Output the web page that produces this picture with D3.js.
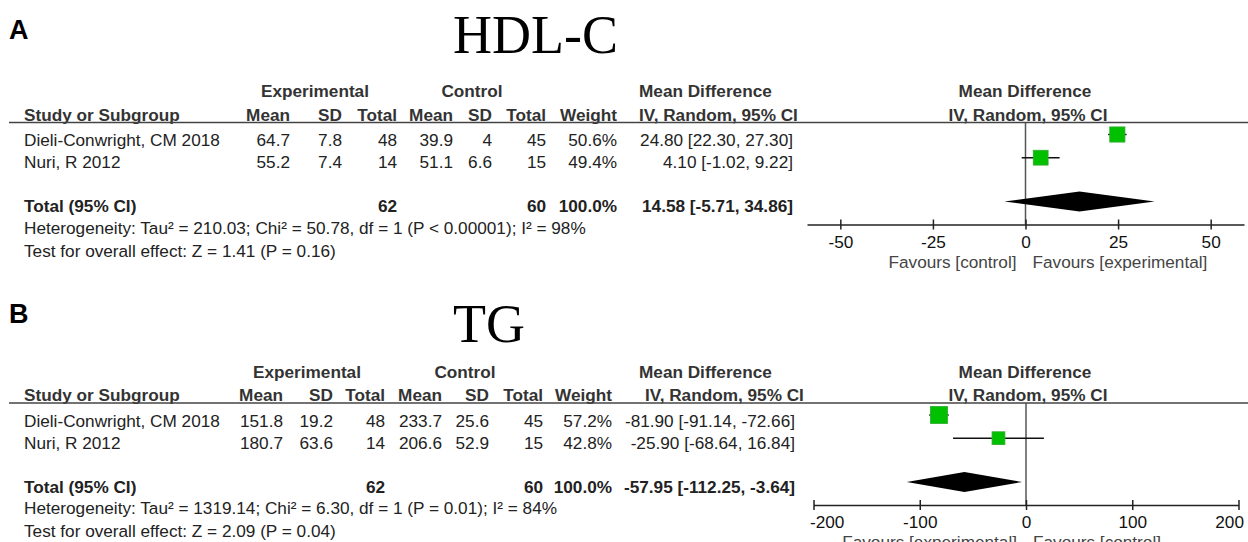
<!DOCTYPE html>
<html lang="en">
<head>
<meta charset="utf-8">
<title>Forest plots HDL-C / TG</title>
<script src="https://d3js.org/d3.v7.min.js"></script>
<style>
  body { margin: 0; background: #fff; }
  svg text { font-family: "Liberation Sans", Arial, sans-serif; }
</style>
</head>
<body>
<div id="chart"></div>
<script>
var studies = ["Dieli-Conwright, CM 2018", "Nuri, R 2012"];

// panel A: HDL-C
var hdlExpMean = [64.7, 55.2], hdlExpSD = [7.8, 7.4], hdlExpN = [48, 14];
var hdlCtlMean = [39.9, 51.1], hdlCtlSD = [4, 6.6], hdlCtlN = [45, 15];
var hdlWeight = [50.6, 49.4];
var hdlMD = [24.80, 4.10], hdlLo = [22.30, -1.02], hdlHi = [27.30, 9.22];
var hdlTotal = [14.58, -5.71, 34.86];
var hdlTicks = [-50, -25, 0, 25, 50];
var hdlFavours = ["Favours [control]", "Favours [experimental]"];
var hdlNotes = ["Heterogeneity: Tau\u00b2 = 210.03; Chi\u00b2 = 50.78, df = 1 (P < 0.00001); I\u00b2 = 98%",
                "Test for overall effect: Z = 1.41 (P = 0.16)"];

// panel B: TG
var tgExpMean = [151.8, 180.7], tgExpSD = [19.2, 63.6], tgExpN = [48, 14];
var tgCtlMean = [233.7, 206.6], tgCtlSD = [25.6, 52.9], tgCtlN = [45, 15];
var tgWeight = [57.2, 42.8];
var tgMD = [-81.90, -25.90], tgLo = [-91.14, -68.64], tgHi = [-72.66, 16.84];
var tgTotal = [-57.95, -112.25, -3.64];
var tgTicks = [-200, -100, 0, 100, 200];
var tgFavours = ["Favours [experimental]", "Favours [control]"];
var tgNotes = ["Heterogeneity: Tau\u00b2 = 1319.14; Chi\u00b2 = 6.30, df = 1 (P = 0.01); I\u00b2 = 84%",
               "Test for overall effect: Z = 2.09 (P = 0.04)"];

var W = 1248, H = 542, FS = 17.2;

var svg = d3.select("#chart").append("svg")
    .attr("width", W).attr("height", H);

function txt(g, x, y, s, opt) {
    opt = opt || {};
    return g.append("text")
        .attr("x", x).attr("y", y)
        .attr("text-anchor", opt.anchor || "start")
        .style("font-size", (opt.size || FS) + "px")
        .style("font-weight", opt.bold ? "bold" : "normal")
        .style("fill", opt.fill || "#222")
        .text(s);
}

function f2(v) { return v.toFixed(2); }

function drawPanel(p) {
    var g = svg.append("g");
    var r = p.rule;
    var c = p.cols;

    txt(g, 9, p.letterY, p.letter, {bold: true, size: 27, fill: "#000"});
    g.append("text").attr("x", 453).attr("y", p.titleY)
        .style("font-family", "'Liberation Serif', 'Times New Roman', serif")
        .style("font-size", "54px").style("fill", "#000")
        .text(p.title);

    // group headers
    txt(g, p.expC, r - 25.5, "Experimental", {anchor: "middle", bold: true, fill: "#333"});
    txt(g, p.ctlC, r - 25.5, "Control", {anchor: "middle", bold: true, fill: "#333"});
    txt(g, 639, r - 25.5, "Mean Difference", {bold: true, fill: "#333"});
    txt(g, 1025, r - 25.5, "Mean Difference", {anchor: "middle", bold: true, fill: "#333"});

    // column headers
    txt(g, 24, r - 2, "Study or Subgroup", {bold: true, fill: "#333"});
    var heads = ["Mean", "SD", "Total", "Mean", "SD", "Total", "Weight"];
    heads.forEach(function(h, i) {
        txt(g, c[i], r - 2, h, {anchor: "end", bold: true, fill: "#333"});
    });
    txt(g, p.ivX, r - 2, "IV, Random, 95% CI", {bold: true, fill: "#333"});
    txt(g, 1028, r - 2, "IV, Random, 95% CI", {anchor: "middle", bold: true, fill: "#333"});

    g.append("line").attr("x1", 9).attr("x2", W).attr("y1", r).attr("y2", r)
        .style("stroke", "#444").style("stroke-width", 1.6);

    // study rows
    studies.forEach(function(s, i) {
        var y = r + 23.5 + i * 22.2;
        txt(g, 24, y, s);
        var vals = [p.expMean[i], p.expSD[i], p.expN[i], p.ctlMean[i], p.ctlSD[i], p.ctlN[i],
                    p.weight[i].toFixed(1) + "%"];
        vals.forEach(function(v, j) { txt(g, c[j], y, String(v), {anchor: "end"}); });
        txt(g, c[7], y, f2(p.md[i]) + " [" + f2(p.lo[i]) + ", " + f2(p.hi[i]) + "]", {anchor: "end"});
    });

    // total row
    var ty = r + 89.5;
    txt(g, 24, ty, "Total (95% CI)", {bold: true});
    txt(g, c[2], ty, String(d3.sum(p.expN)), {anchor: "end", bold: true});
    txt(g, c[5], ty, String(d3.sum(p.ctlN)), {anchor: "end", bold: true});
    txt(g, c[6], ty, d3.sum(p.weight).toFixed(1) + "%", {anchor: "end", bold: true});
    txt(g, c[7], ty, f2(p.total[0]) + " [" + f2(p.total[1]) + ", " + f2(p.total[2]) + "]",
        {anchor: "end", bold: true});

    txt(g, 24, r + 111, p.notes[0]);
    txt(g, 24, r + 134, p.notes[1]);

    // forest plot
    var x = d3.scaleLinear().domain(p.domain).range(p.range);
    var axisY = r + 102;

    g.append("line").attr("x1", x(0)).attr("x2", x(0)).attr("y1", r).attr("y2", axisY)
        .style("stroke", "#555").style("stroke-width", 1.5);

    var ax = g.append("g").attr("transform", "translate(0," + axisY + ")")
        .call(d3.axisBottom(x).tickValues(p.ticks).tickSize(5).tickSizeOuter(0)
            .tickFormat(function(d) { return String(d); }));
    ax.select(".domain").style("stroke", "#222").style("stroke-width", 1.5);
    ax.selectAll(".tick line").attr("y1", -5).attr("y2", 5)
        .style("stroke", "#222").style("stroke-width", 1.5);
    ax.selectAll(".tick text").attr("y", 23).attr("dy", null)
        .style("font-size", FS + "px").style("fill", "#111")
        .style("font-family", "'Liberation Sans', Arial, sans-serif")
        .each(function(d) {
            // keep end labels inside the axis span
            var w = this.getComputedTextLength(), cx = x(d);
            var lo = p.range[0] - 4, hi = p.range[1] + 5;
            if (cx - w / 2 < lo) d3.select(this).attr("x", lo + w / 2 - cx);
            if (cx + w / 2 > hi) d3.select(this).attr("x", hi - w / 2 - cx);
        });

    txt(g, x(0) - 9, r + 145, p.favours[0], {anchor: "end", fill: "#444"});
    txt(g, x(0) + 7, r + 145, p.favours[1], {fill: "#444"});

    var sq = studies.map(function(s, i) {
        return {md: p.md[i], lo: p.lo[i], hi: p.hi[i], w: p.weight[i], y: r + 12 + i * 23.2};
    });
    g.selectAll(".ci").data(sq).enter().append("line")
        .attr("x1", function(d) { return x(d.lo); })
        .attr("x2", function(d) { return x(d.hi); })
        .attr("y1", function(d) { return d.y; })
        .attr("y2", function(d) { return d.y; })
        .style("stroke", "#111").style("stroke-width", 1.4);
    g.selectAll(".sq").data(sq).enter().append("rect")
        .attr("x", function(d) { return x(d.md) - d.w * 0.15; })
        .attr("y", function(d) { return d.y - d.w * 0.15; })
        .attr("width", function(d) { return d.w * 0.3; })
        .attr("height", function(d) { return d.w * 0.3; })
        .style("fill", "#00c000").style("stroke", "#33aa33").style("stroke-width", 0.8);

    var dy = r + 79;
    var dpts = [[x(p.total[1]), dy], [x(p.total[0]), dy - 10], [x(p.total[2]), dy], [x(p.total[0]), dy + 10]];
    g.append("path").attr("d", "M" + dpts.join("L") + "Z").style("fill", "#000");
}

drawPanel({
    letter: "A", letterY: 39, title: "HDL-C", titleY: 53, rule: 122.5,
    cols: [290, 342, 397, 453, 492, 546, 617, 793], expC: 315, ctlC: 472, ivX: 639,
    expMean: hdlExpMean, expSD: hdlExpSD, expN: hdlExpN,
    ctlMean: hdlCtlMean, ctlSD: hdlCtlSD, ctlN: hdlCtlN,
    weight: hdlWeight, md: hdlMD, lo: hdlLo, hi: hdlHi, total: hdlTotal,
    notes: hdlNotes, ticks: hdlTicks, favours: hdlFavours,
    domain: [-59, 59], range: [807, 1244]
});

drawPanel({
    letter: "B", letterY: 323, title: "TG", titleY: 342, rule: 403,
    cols: [283, 333, 385, 442, 489, 543, 612, 795], expC: 307, ctlC: 465, ivX: 645,
    expMean: tgExpMean, expSD: tgExpSD, expN: tgExpN,
    ctlMean: tgCtlMean, ctlSD: tgCtlSD, ctlN: tgCtlN,
    weight: tgWeight, md: tgMD, lo: tgLo, hi: tgHi, total: tgTotal,
    notes: tgNotes, ticks: tgTicks, favours: tgFavours,
    domain: [-200, 200], range: [813.5, 1238.5]
});
</script>
</body>
</html>
